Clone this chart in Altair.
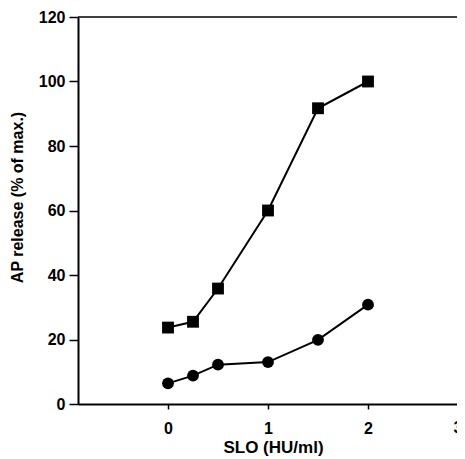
import altair as alt
import pandas as pd

slo = [0, 0.25, 0.5, 1, 1.5, 2]
squares = [23.7, 25.5, 35.8, 60.0, 91.7, 100.0]
circles = [6.4, 8.8, 12.2, 13.0, 19.9, 30.8]

x_ticks = [0, 1, 2]
x_edge_tick = [3]
y_ticks = [0, 20, 40, 60, 80, 100, 120]
y_top = [120]

rows = []
for x, v in zip(slo, squares):
    rows.append({"x": x, "y": v, "series": "squares"})
for x, v in zip(slo, circles):
    rows.append({"x": x, "y": v, "series": "circles"})
df = pd.DataFrame(rows)
edge = pd.DataFrame({"x": x_edge_tick, "y": [0], "label": [str(v) for v in x_edge_tick]})
top = pd.DataFrame({"y": y_top})

FONT = "Liberation Sans"
W, H = 379, 387
xscale = alt.Scale(domain=[-0.9, 2.89], nice=False, zero=False)
yscale = alt.Scale(domain=[0, 120], nice=False)

xenc = alt.X("x:Q", scale=xscale,
             axis=alt.Axis(title="SLO (HU/ml)", values=x_ticks, format="d", grid=False,
                           tickSize=5, labelPadding=11, titlePadding=3,
                           labelFontSize=16, titleFontSize=17, labelFontWeight="bold",
                           titleFontWeight="bold", labelFont=FONT, titleFont=FONT,
                           domainWidth=2, tickWidth=1.5, domainColor="black",
                           tickColor="black", labelColor="black", titleColor="black",
                           labelFlush=False, labelOverlap=False, titleX=195))
yenc = alt.Y("y:Q", scale=yscale,
             axis=alt.Axis(title="AP release (% of max.)", values=y_ticks, grid=False,
                           tickSize=9, labelPadding=4, titlePadding=13,
                           labelFontSize=16, titleFontSize=16, labelFontWeight="bold",
                           titleFontWeight="bold", labelFont=FONT, titleFont=FONT,
                           domainWidth=2, tickWidth=1.5, domainColor="black",
                           tickColor="black", labelColor="black", titleColor="black",
                           labelFlush=False, labelOverlap=False, titleY=180))

base = alt.Chart(df)
lines = base.mark_line(color="black", strokeWidth=2).encode(
    x=xenc, y=yenc, detail="series:N")
pts = base.mark_point(filled=True, color="black", opacity=1, size=140).encode(
    x=xenc, y=yenc,
    shape=alt.Shape("series:N", scale=alt.Scale(domain=["squares", "circles"],
                                                 range=["square", "circle"]), legend=None))
top_rule = alt.Chart(top).mark_rule(color="black", strokeWidth=1.5).encode(
    y=alt.Y("y:Q", scale=yscale), x=alt.value(0), x2=alt.value(W))
# the "3" tick label sits at the very edge of the figure and is cut off there
edge_label = alt.Chart(edge).mark_text(
    font=FONT, fontSize=16, fontWeight="bold", color="black",
    baseline="top", align="center", dy=16, dx=-10).encode(
    x=alt.X("x:Q", scale=xscale), y=alt.Y("y:Q", scale=yscale), text="label:N")

chart = (top_rule + lines + pts + edge_label).properties(
    width=W, height=H,
    autosize=alt.AutoSizeParams(type="none"),
    padding={"left": 70, "top": 9, "right": 0, "bottom": 55},
    background="white",
).configure_view(strokeWidth=0)

chart.save("out.html", embed_options={"renderer": "svg", "actions": False})
